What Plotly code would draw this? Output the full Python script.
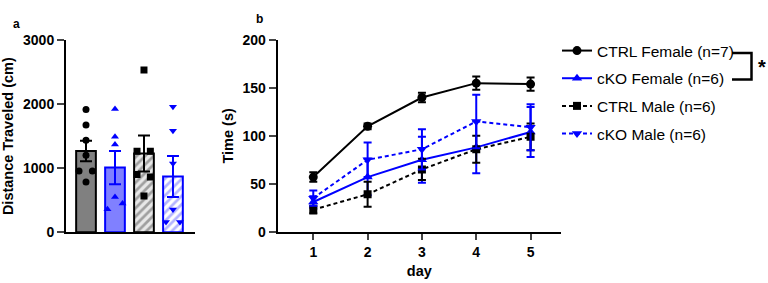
import plotly.graph_objects as go

# ---------------- Panel a data ----------------
groups = ["CTRL Female", "cKO Female", "CTRL Male", "cKO Male"]
dist_mean = [1270, 1010, 1230, 870]
dist_sem = [160, 260, 280, 320]
pts_ctrl_f = [1917, 1672, 1437, 1203, 958, 958, 786]
pts_cko_f = [1922, 1489, 1370, 552, 448, 358]
pts_ctrl_m = [2531, 1266, 1266, 902, 864, 567]
pts_cko_m = [1958, 1583, 1073, 355, 161, 161]
jit_ctrl_f = [0, 0, 0, 0, -0.24, 0.22, 0]
jit_cko_f = [0, 0, 0, 0, 0.26, -0.26]
jit_ctrl_m = [0, -0.24, 0.22, -0.24, 0.22, 0]
jit_cko_m = [0, 0, 0, 0, -0.24, 0.24]

# ---------------- Panel b data ----------------
days = [1, 2, 3, 4, 5]
ctrl_f = [57, 110, 140, 155, 154]
ctrl_f_err = [5, 3, 5, 7, 7]
cko_f = [31, 57, 75, 88, 104]
cko_f_err = [6, 19, 24, 27, 26]
ctrl_m = [23, 39, 65, 86, 99]
ctrl_m_err = [4, 13, 11, 14, 14]
cko_m = [35, 75, 86, 115, 109]
cko_m_err = [8, 18, 21, 28, 24]
legend_names = ["CTRL Female (n=7)", "cKO Female (n=6)", "CTRL Male (n=6)", "cKO Male (n=6)"]

FONT = "Liberation Sans, Arial, sans-serif"
BLACK = "#000000"
BLUE = "#0000ff"

fig = go.Figure()

# bars
bar_fill = ["#808080", "#8080ff", "#e8e8e8", "#ffffff"]
bar_edge = [BLACK, BLUE, BLACK, BLUE]
bar_pat = ["", "", "/", "/"]
bar_patfg = ["#808080", "#8080ff", "#555555", "#6a6aff"]
for i in range(4):
    fig.add_trace(go.Bar(
        x=[i], y=[dist_mean[i]], width=0.68,
        marker=dict(color=bar_fill[i], line=dict(color=bar_edge[i], width=2),
                    pattern=dict(shape=bar_pat[i], fgcolor=bar_patfg[i],
                                 bgcolor=bar_fill[i], size=6, solidity=0.45)),
        error_y=dict(type="data", array=[dist_sem[i]], color=bar_edge[i],
                     thickness=2, width=6),
        xaxis="x", yaxis="y", showlegend=False, hoverinfo="skip"))

pts_all = [pts_ctrl_f, pts_cko_f, pts_ctrl_m, pts_cko_m]
jit_all = [jit_ctrl_f, jit_cko_f, jit_ctrl_m, jit_cko_m]
pt_sym = ["circle", "triangle-up", "square", "triangle-down"]
pt_col = [BLACK, BLUE, BLACK, BLUE]
for i in range(4):
    fig.add_trace(go.Scatter(
        x=[i + j for j in jit_all[i]], y=pts_all[i], mode="markers",
        marker=dict(symbol=pt_sym[i], color=pt_col[i], size=7, line=dict(width=0)),
        xaxis="x", yaxis="y", showlegend=False, hoverinfo="skip"))

# lines panel b
series = [(ctrl_f, ctrl_f_err, BLACK, "solid", "circle", 9),
          (cko_f, cko_f_err, BLUE, "solid", "triangle-up", 9),
          (ctrl_m, ctrl_m_err, BLACK, "4px,3px", "square", 8),
          (cko_m, cko_m_err, BLUE, "4px,3px", "triangle-down", 9)]
for k, (vals, errs, col, dash, sym, sz) in enumerate(series):
    fig.add_trace(go.Scatter(
        x=days, y=vals, mode="lines+markers", name=legend_names[k],
        line=dict(color=col, width=2, dash=dash),
        marker=dict(symbol=sym, color=col, size=sz, line=dict(width=0)),
        error_y=dict(type="data", array=errs, color=col, thickness=2, width=4),
        legendgroup="g%d" % k,
        xaxis="x2", yaxis="y2"))

TICKFONT = dict(family=FONT, size=14, color=BLACK, weight="bold")
TITLEFONT = dict(family=FONT, size=14.5, color=BLACK, weight="bold")
axis_common = dict(showline=True, linecolor=BLACK, linewidth=2, mirror=False,
                   showgrid=False, zeroline=False, automargin=False)

fig.update_layout(
    width=768, height=283,
    margin=dict(l=0, r=0, t=0, b=0, autoexpand=False),
    paper_bgcolor="white", plot_bgcolor="white",
    barmode="overlay",
    font=dict(family=FONT, color=BLACK),
    xaxis=dict(domain=[66/768, 195/768], range=[-0.69, 3.76], showticklabels=False,
               ticks="", **axis_common),
    yaxis=dict(domain=[1-232.3/283, 1-40/283], range=[0, 3000],
               tickvals=[0, 1000, 2000, 3000], ticks="outside", ticklen=7, tickwidth=2,
               tickfont=TICKFONT,
               title=dict(text="Distance Traveled (cm)", font=TITLEFONT, standoff=8),
               anchor="x", **axis_common),
    xaxis2=dict(domain=[277.7/768, 561/768], range=[0.345, 5.56],
                tickvals=days, ticks="outside", ticklen=6, tickwidth=2,
                tickfont=TICKFONT,
                title=dict(text="day", font=TITLEFONT, standoff=7),
                anchor="y2", **axis_common),
    yaxis2=dict(domain=[1-231.7/283, 1-40/283], range=[0, 200],
                tickvals=[0, 50, 100, 150, 200], ticks="outside", ticklen=7, tickwidth=2,
                tickfont=TICKFONT,
                title=dict(text="Time (s)", font=TITLEFONT, standoff=5),
                anchor="x2", **axis_common),
    legend=dict(x=557/768, y=1-34/283, xanchor="left", yanchor="top",
                font=dict(family=FONT, size=15.5, color=BLACK),
                tracegroupgap=4.5, bgcolor="rgba(0,0,0,0)", borderwidth=0),
    showlegend=True,
)

# panel labels
fig.add_annotation(x=11/768, y=1-15/283, xref="paper", yref="paper", text="a",
                   showarrow=False, font=dict(family=FONT, size=12, weight="bold", color=BLACK))
fig.add_annotation(x=259/768, y=1-10/283, xref="paper", yref="paper", text="b",
                   showarrow=False, font=dict(family=FONT, size=12, weight="bold", color=BLACK))
# significance bracket
fig.add_shape(type="path", xref="paper", yref="paper",
              path="M %f,%f L %f,%f L %f,%f L %f,%f" % (
                  732/768, 1-53/283, 751.5/768, 1-53/283, 751.5/768, 1-79.5/283, 732/768, 1-79.5/283),
              line=dict(color=BLACK, width=2.5))
fig.add_annotation(x=768/768, y=1-67/283, xref="paper", yref="paper", text="*",
                   xanchor="right", yanchor="middle",
                   showarrow=False, font=dict(family=FONT, size=20, weight="bold", color=BLACK))

fig.write_html("out.html", post_script="document.body.style.margin='0px';",
               config={"displayModeBar": False})
